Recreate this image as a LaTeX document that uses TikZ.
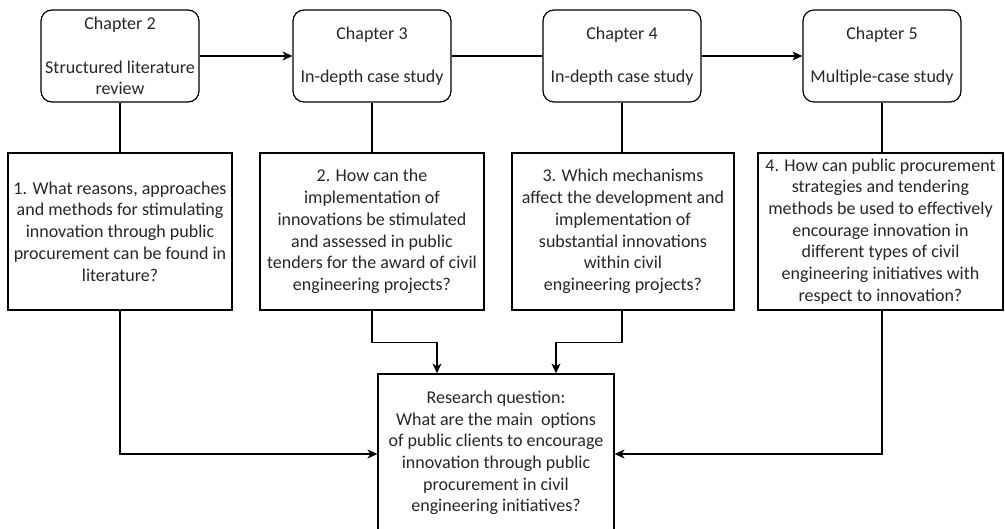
\documentclass[tikz,border=0pt]{standalone}
\usepackage{fontspec}
\setmainfont{Carlito}
\usetikzlibrary{arrows.meta,calc}
\begin{document}
\begin{tikzpicture}[x=1pt,y=-1pt,
  every node/.style={font=\fontsize{18}{21.7}\selectfont, text=black!85, align=center, inner sep=0pt},
  chapbox/.style={draw, line width=1.2pt, rounded corners=11pt, minimum width=158pt, minimum height=92pt},
  qbox/.style={draw, line width=1.2pt, minimum height=157pt},
  link/.style={line width=1.2pt},
  arr/.style={link, -{Stealth[length=10pt,width=9pt,inset=3pt]}}]
\useasboundingbox (0,0) rectangle (1005,529);
\clip (0,0) rectangle (1005,529);

% chapter boxes
\node[chapbox] (c2) at (120,56) {Chapter 2\\[21.7pt]Structured literature\\review};
\node[chapbox] (c3) at (372,56) {Chapter 3\\[21.7pt]In-depth case study};
\node[chapbox] (c4) at (622,56) {Chapter 4\\[21.7pt]In-depth case study};
\node[chapbox] (c5) at (882,56) {Chapter 5\\[21.7pt]Multiple-case study};

% sub-questions
\node[qbox, minimum width=224pt] (q1) at (120,231.5) {1. What reasons, approaches\\and methods for stimulating\\innovation through public\\procurement can be found in\\literature?};
\node[qbox, minimum width=224pt] (q2) at (372,231.5) {2. How can the\\implementation of\\innovations be stimulated\\and assessed in public\\tenders for the award of civil\\engineering projects?};
\node[qbox, minimum width=222pt] (q3) at (623,231.5) {3. Which mechanisms\\affect the development and\\implementation of\\substantial innovations\\within civil\\engineering projects?};
\node[qbox, minimum width=245pt] (q4) at (880.5,231.5) {4. How can public procurement\\strategies and tendering\\methods be used to effectively\\encourage innovation in\\different types of civil\\engineering initiatives with\\respect to innovation?};

% main research question: the frame runs past the lower edge of the page
\node[qbox, minimum width=236pt, minimum height=166pt] (rq) at (496,457) {};
\node (rqtext) at ($(rq.center)+(0,-4)$) {Research question:\\What are the main~ options\\of public clients to encourage\\innovation through public\\procurement in civil\\engineering initiatives?};

% chapter sequence
\draw[arr] (c2) -- (c3);
\draw[link] (c3) -- (c4);
\draw[arr] (c4) -- (c5);

% chapters to their questions
\draw[link] (c2.south) -- (c2.south |- q1.north);
\draw[link] (c3.south) -- (c3.south |- q2.north);
\draw[link] (c4.south) -- (c4.south |- q3.north);
\draw[link] (c5.south) -- (c5.south |- q4.north);

% questions into the research question
\coordinate (inL) at ($(rq.west)+(0,-3)$);
\coordinate (inR) at ($(rq.east)+(0,-3)$);
\coordinate (topL) at ($(rq.north)+(-59,0)$);
\coordinate (topR) at ($(rq.north)+(60,0)$);
\draw[arr] (q1.south) |- (inL);
\draw[arr] (q4.south -| c5.south) |- (inR);
\draw[arr] (q2.south) -- ++(0,32) -| (topL);
\draw[arr] (q3.south -| c4.south) -- ++(0,32) -| (topR);
\end{tikzpicture}
\end{document}
